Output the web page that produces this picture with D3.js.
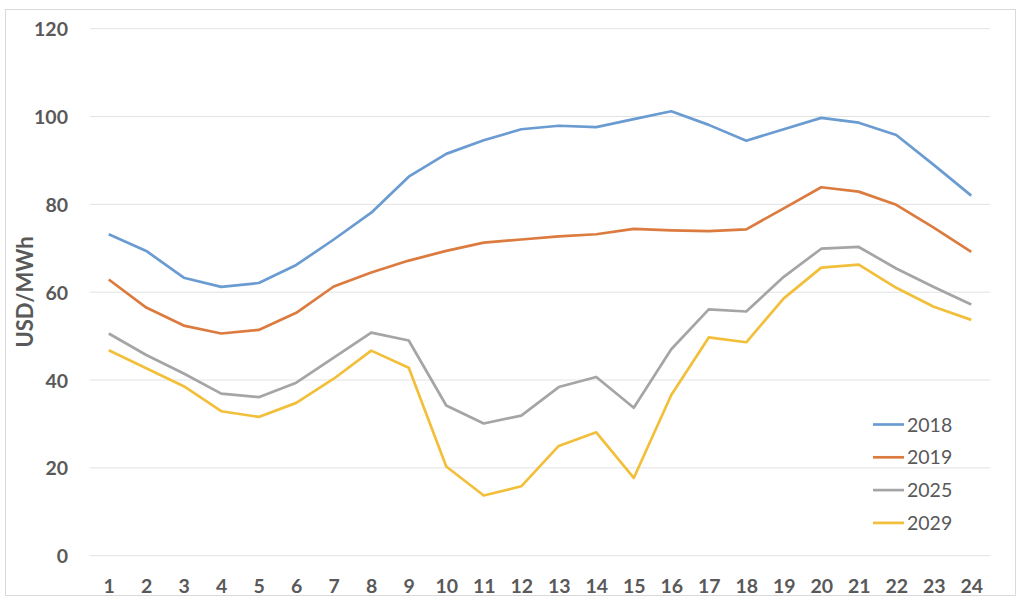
<!DOCTYPE html>
<html><head><meta charset="utf-8">
<script src="https://cdn.jsdelivr.net/npm/d3@7"></script>
<style>body{margin:0;background:#fff;}svg{display:block;font-family:Lato,"Open Sans",sans-serif;}</style>
</head><body>
<svg id="c" width="1024" height="603"></svg>
<script>
const hours = d3.range(1, 25);
const s2018 = [73.2,69.4,63.3,61.2,62.1,66.2,72.0,78.1,86.3,91.5,94.6,97.1,97.9,97.6,99.4,101.2,98.1,94.5,97.1,99.7,98.6,95.8,89.0,82.0];
const s2019 = [62.9,56.5,52.4,50.6,51.4,55.3,61.3,64.5,67.2,69.4,71.3,72.0,72.7,73.2,74.4,74.1,73.9,74.3,79.1,83.9,82.9,79.9,74.7,69.2];
const s2025 = [50.6,45.7,41.5,36.9,36.1,39.4,45.1,50.8,49.0,34.2,30.1,31.9,38.4,40.7,33.7,47.0,56.1,55.6,63.5,69.9,70.3,65.4,61.2,57.2];
const s2029 = [46.8,42.7,38.6,32.9,31.6,34.8,40.3,46.7,42.8,20.3,13.7,15.8,25.0,28.1,17.7,36.6,49.7,48.6,58.6,65.6,66.3,61.0,56.7,53.7];
const seriesNames = ["2018","2019","2025","2029"];
const seriesColors = ["#6A9BD1","#DC7B3F","#A5A5A5","#F2BF3A"];
const yTicks = [0,20,40,60,80,100,120];
const series = [s2018, s2019, s2025, s2029];

const svg = d3.select("#c");
svg.append("rect").attr("x",5.5).attr("y",9.5).attr("width",1010).attr("height",586)
  .attr("fill","#fff").attr("stroke","#D9D9D9").attr("stroke-width",1);

const x = d3.scalePoint().domain(hours).range([90, 990]).padding(0.5);
const y = d3.scaleLinear().domain([0,120]).range([555.7, 28.7]);

// gridlines
svg.append("g").selectAll("line").data(yTicks).join("line")
  .attr("x1",90).attr("x2",990).attr("y1",d=>y(d)).attr("y2",d=>y(d))
  .attr("stroke","#E3E3E3").attr("stroke-width",1);

// y axis labels
const ya = svg.append("g").attr("transform","translate(68,0)")
  .call(d3.axisLeft(y).tickValues(yTicks).tickSize(0).tickPadding(0));
ya.select(".domain").remove();
ya.selectAll("text").attr("font-size",19.5).attr("font-weight","bold").attr("fill","#595959")
  .attr("font-family","Lato,'Open Sans',sans-serif").attr("dy","0.36em");

// x axis labels
const xa = svg.append("g").attr("transform","translate(0,593)")
  .call(d3.axisBottom(x).tickSize(0).tickPadding(0));
xa.select(".domain").remove();
xa.selectAll("text").attr("font-size",19.5).attr("font-weight","bold").attr("fill","#595959")
  .attr("font-family","Lato,'Open Sans',sans-serif").attr("dy","0");

// y title
svg.append("text").attr("transform","translate(33,292) rotate(-90)")
  .attr("text-anchor","middle").attr("font-size",22).attr("font-weight","bold")
  .attr("fill","#595959").text("USD/MWh");

// lines
const line = d3.line().x((d,i)=>x(hours[i])).y(d=>y(d));
series.forEach((s,k)=>{
  svg.append("path").datum(s).attr("d",line).attr("fill","none")
    .attr("stroke",seriesColors[k]).attr("stroke-width",2.7).attr("stroke-linejoin","round");
});

// legend
const lg = svg.append("g");
seriesNames.forEach((n,k)=>{
  const yy = 424.5 + k*32.8;
  lg.append("line").attr("x1",873).attr("x2",904).attr("y1",yy).attr("y2",yy)
    .attr("stroke",seriesColors[k]).attr("stroke-width",2.7);
  lg.append("text").attr("x",907).attr("y",yy).attr("dy","0.36em")
    .attr("font-size",19.5).attr("fill","#595959").text(n);
});
</script>
</body></html>
